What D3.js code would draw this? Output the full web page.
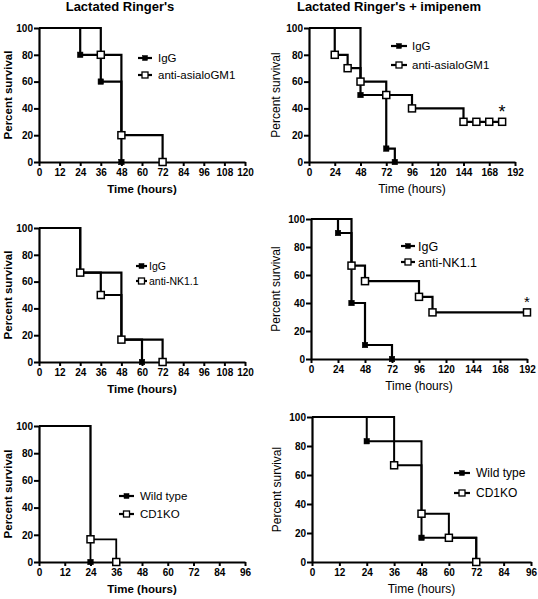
<!DOCTYPE html>
<html>
<head>
<meta charset="utf-8">
<script src="https://cdn.jsdelivr.net/npm/d3@7"></script>
<style>
  html, body { margin: 0; padding: 0; background: #fff; }
  svg { display: block; font-family: "Liberation Sans", Arial, sans-serif; }
</style>
</head>
<body>
<svg id="chart" width="538" height="599"></svg>
<script>
// ---------------- DATA ----------------
const titles = ["Lactated Ringer's", "Lactated Ringer's + imipenem"];
const xLabel = "Time (hours)";
const yLabel = "Percent survival";
const yTicks = [0, 20, 40, 60, 80, 100];
const xTicks120 = [0, 12, 24, 36, 48, 60, 72, 84, 96, 108, 120];
const xTicks192 = [0, 24, 48, 72, 96, 120, 144, 168, 192];
const xTicks96 = [0, 12, 24, 36, 48, 60, 72, 84, 96];

// Panel A: Lactated Ringer's, IgG vs anti-asialoGM1
const aNames = ["IgG", "anti-asialoGM1"];
const aIgGTime = [0, 24, 36, 48];
const aIgGSurv = [100, 80, 60, 0];
const aAsialoTime = [0, 36, 48, 72];
const aAsialoSurv = [100, 80, 20, 0];

// Panel B: Lactated Ringer's + imipenem, IgG vs anti-asialoGM1
const bNames = ["IgG", "anti-asialoGM1"];
const bIgGTime = [0, 48, 72, 80];
const bIgGSurv = [100, 50, 10, 0];
const bAsialoTime = [0, 24, 36, 48, 72, 96, 144];
const bAsialoSurv = [100, 80, 70, 60, 50, 40, 30];
const bAsialoCensor = [156, 168, 180];

// Panel C: Lactated Ringer's, IgG vs anti-NK1.1
const cNames = ["IgG", "anti-NK1.1"];
const cIgGTime = [0, 24, 48, 60];
const cIgGSurv = [100, 66.7, 16.7, 0];
const cNKTime = [0, 24, 36, 48, 72];
const cNKSurv = [100, 66.7, 50, 16.7, 0];

// Panel D: Lactated Ringer's + imipenem, IgG vs anti-NK1.1
const dNames = ["IgG", "anti-NK1.1"];
const dIgGTime = [0, 24, 36, 48, 72];
const dIgGSurv = [100, 90, 40, 10, 0];
const dNKTime = [0, 36, 48, 96, 108];
const dNKSurv = [100, 66.7, 55.6, 44.4, 33.3];
const dNKCensor = [192];

// Panel E: Lactated Ringer's, Wild type vs CD1KO
const eNames = ["Wild type", "CD1KO"];
const eWTTime = [0, 24];
const eWTSurv = [100, 0];
const eKOTime = [0, 24, 36];
const eKOSurv = [100, 16.7, 0];

// Panel F: Lactated Ringer's + imipenem, Wild type vs CD1KO
const fNames = ["Wild type", "CD1KO"];
const fWTTime = [0, 24, 48, 72];
const fWTSurv = [100, 83.3, 16.7, 0];
const fKOTime = [0, 36, 48, 60, 72];
const fKOSurv = [100, 66.7, 33.3, 16.7, 0];

// ---------------- DRAWING ----------------
const svg = d3.select("#chart");
const FONT = '"Liberation Sans", Arial, sans-serif';

function drawPanel(p) {
  const x = d3.scaleLinear().domain([0, p.xMax]).range([p.x0, p.x1]);
  const y = d3.scaleLinear().domain([0, 100]).range([p.yBot, p.yTop]);
  const g = svg.append("g");

  // axes
  const xa = g.append("g").attr("transform", `translate(0,${p.yBot})`)
    .call(d3.axisBottom(x).tickValues(p.xTicks).tickSize(4).tickSizeOuter(0).tickPadding(3).tickFormat(d3.format("d")));
  const ya = g.append("g").attr("transform", `translate(${p.x0},0)`)
    .call(d3.axisLeft(y).tickValues(yTicks).tickSize(5).tickSizeOuter(0).tickPadding(1).tickFormat(d3.format("d")));
  [xa, ya].forEach(a => {
    a.select(".domain").attr("stroke", "#000").attr("stroke-width", 2.2);
    a.selectAll(".tick line").attr("stroke", "#000").attr("stroke-width", 2);
    a.selectAll(".tick text").attr("fill", "#000").style("font-family", FONT)
      .style("font-size", "10px").style("font-weight", "bold");
  });

  // axis titles
  g.append("text").attr("x", (p.x0 + p.x1) / 2).attr("y", p.yBot + 31)
    .attr("text-anchor", "middle").style("font-size", p.labelSize + "px")
    .style("font-weight", p.labelWeight).text(xLabel);
  g.append("text").attr("transform", `translate(${p.yLabX},${(p.yTop + p.yBot) / 2}) rotate(-90)`)
    .attr("text-anchor", "middle").attr("dy", "0.35em").style("font-size", p.labelSize + "px")
    .style("font-weight", p.labelWeight).text(yLabel);

  if (p.title) {
    g.append("text").attr("x", p.titleX).attr("y", 11).attr("text-anchor", "middle")
      .style("font-size", "13px").style("font-weight", "bold").text(p.title);
  }

  const line = d3.line().x(d => x(d[0])).y(d => y(d[1]));

  p.series.forEach(s => {
    const pts = [[s.time[0], s.surv[0]]];
    for (let i = 1; i < s.time.length; i++) {
      pts.push([s.time[i], s.surv[i - 1]]);
      pts.push([s.time[i], s.surv[i]]);
    }
    const last = s.surv[s.surv.length - 1];
    const cens = s.censor || [];
    if (cens.length) pts.push([cens[cens.length - 1], last]);
    g.append("path").attr("d", line(pts)).attr("fill", "none")
      .attr("stroke", "#000").attr("stroke-width", p.lw);

    const marks = [];
    for (let i = 1; i < s.time.length; i++) marks.push([s.time[i], s.surv[i]]);
    cens.forEach(c => marks.push([c, last]));
    const sz = s.open ? 7 : 5.5;
    g.selectAll(null).data(marks).enter().append("rect")
      .attr("x", d => x(d[0]) - sz / 2).attr("y", d => y(d[1]) - sz / 2)
      .attr("width", sz).attr("height", sz)
      .attr("fill", s.open ? "#fff" : "#000").attr("stroke", "#000")
      .attr("stroke-width", s.open ? 1.5 : 0.5);
  });

  if (p.star) {
    g.append("text").attr("x", x(p.star[0])).attr("y", y(p.star[1]) + p.starDy)
      .attr("text-anchor", "middle").style("font-size", p.starSize + "px").text("*");
  }

  // legend
  p.series.forEach((s, i) => {
    const ly = p.leg.y[i];
    g.append("line").attr("x1", p.leg.x0).attr("x2", p.leg.x1).attr("y1", ly).attr("y2", ly)
      .attr("stroke", "#000").attr("stroke-width", 2.2);
    const sz = s.open ? 6 : 5;
    const cx = (p.leg.x0 + p.leg.x1) / 2;
    g.append("rect").attr("x", cx - sz / 2).attr("y", ly - sz / 2).attr("width", sz).attr("height", sz)
      .attr("fill", s.open ? "#fff" : "#000").attr("stroke", "#000").attr("stroke-width", s.open ? 1.3 : 0.5);
    g.append("text").attr("x", p.leg.tx).attr("y", ly).attr("dy", "0.36em")
      .style("font-size", p.leg.size + "px").text(s.name);
  });
}

drawPanel({
  x0: 39, x1: 245, yTop: 28, yBot: 162, xMax: 120, xTicks: xTicks120, lw: 2.2,
  title: titles[0], titleX: 120, labelSize: 11.5, labelWeight: "bold", yLabX: 8,
  series: [
    { name: aNames[0], time: aIgGTime, surv: aIgGSurv, open: false },
    { name: aNames[1], time: aAsialoTime, surv: aAsialoSurv, open: true }
  ],
  leg: { y: [58, 75], x0: 138, x1: 152, tx: 158, size: 11.5 }
});

drawPanel({
  x0: 309, x1: 515, yTop: 28, yBot: 162, xMax: 192, xTicks: xTicks192, lw: 2.2,
  title: titles[1], titleX: 389, labelSize: 12, labelWeight: "normal", yLabX: 276,
  series: [
    { name: bNames[0], time: bIgGTime, surv: bIgGSurv, open: false },
    { name: bNames[1], time: bAsialoTime, surv: bAsialoSurv, censor: bAsialoCensor, open: true }
  ],
  star: [bAsialoCensor[bAsialoCensor.length - 1], bAsialoSurv[bAsialoSurv.length - 1]], starDy: -4, starSize: 18,
  leg: { y: [46, 65], x0: 391, x1: 407, tx: 412, size: 11.5 }
});

drawPanel({
  x0: 39, x1: 245, yTop: 228, yBot: 362, xMax: 120, xTicks: xTicks120, lw: 2.2,
  labelSize: 11.5, labelWeight: "bold", yLabX: 8,
  series: [
    { name: cNames[0], time: cIgGTime, surv: cIgGSurv, open: false },
    { name: cNames[1], time: cNKTime, surv: cNKSurv, open: true }
  ],
  leg: { y: [266, 281], x0: 136, x1: 147, tx: 149, size: 10.5 }
});

drawPanel({
  x0: 311, x1: 527, yTop: 219, yBot: 359, xMax: 192, xTicks: xTicks192, lw: 2.2,
  labelSize: 12, labelWeight: "normal", yLabX: 276,
  series: [
    { name: dNames[0], time: dIgGTime, surv: dIgGSurv, open: false },
    { name: dNames[1], time: dNKTime, surv: dNKSurv, censor: dNKCensor, open: true }
  ],
  star: [dNKCensor[0], dNKSurv[dNKSurv.length - 1]], starDy: -5, starSize: 15,
  leg: { y: [246, 262], x0: 401, x1: 415, tx: 418, size: 12.5 }
});

drawPanel({
  x0: 39, x1: 245, yTop: 426, yBot: 562, xMax: 96, xTicks: xTicks96, lw: 1.8,
  labelSize: 11.5, labelWeight: "bold", yLabX: 8,
  series: [
    { name: eNames[0], time: eWTTime, surv: eWTSurv, open: false },
    { name: eNames[1], time: eKOTime, surv: eKOSurv, open: true }
  ],
  leg: { y: [496, 514], x0: 119, x1: 134, tx: 140, size: 11.5 }
});

drawPanel({
  x0: 312, x1: 531, yTop: 417, yBot: 562, xMax: 96, xTicks: xTicks96, lw: 2,
  labelSize: 12, labelWeight: "normal", yLabX: 277,
  series: [
    { name: fNames[0], time: fWTTime, surv: fWTSurv, open: false },
    { name: fNames[1], time: fKOTime, surv: fKOSurv, open: true }
  ],
  leg: { y: [473, 493], x0: 454, x1: 470, tx: 476, size: 12 }
});
</script>
</body>
</html>
